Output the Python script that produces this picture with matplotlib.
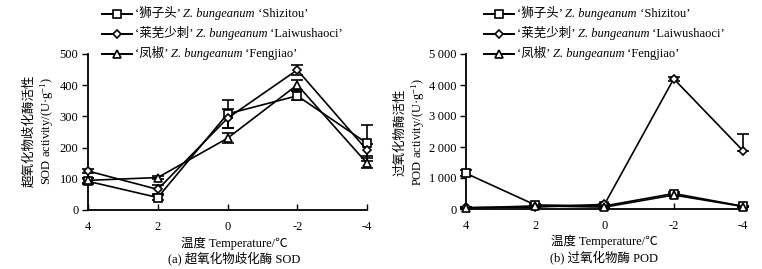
import numpy as np
import matplotlib
matplotlib.use('Agg')
import matplotlib.pyplot as plt
from matplotlib.lines import Line2D

plt.rcParams['font.family'] = ['Liberation Serif', 'Noto Sans CJK SC', 'DejaVu Serif']
plt.rcParams['mathtext.fontset'] = 'custom'
plt.rcParams['mathtext.rm'] = 'Liberation Serif'
plt.rcParams['mathtext.it'] = 'Liberation Serif:italic'
plt.rcParams['font.size'] = 9

# data
temps = [4, 2, 0, -2, -4]
temp_labels = ['4', '2', '0', '-2', '-4']

cultivars_cn = ['‘狮子头’ ', '‘莱芜少刺’ ', '‘凤椒’ ']
cultivars_en = [' ‘Shizitou’', ' ‘Laiwushaoci’', ' ‘Fengjiao’']
markers = ['s', 'D', '^']

sod_shizitou = [92, 40, 308, 366, 214]
sod_shizitou_err = [10, 8, 44, 15, 58]
sod_laiwu = [125, 66, 294, 449, 192]
sod_laiwu_err = [8, 15, 30, 16, 20]
sod_fengjiao = [95, 104, 230, 401, 150]
sod_fengjiao_err = [8, 6, 16, 15, 16]

pod_shizitou = [1150, 130, 100, 500, 90]
pod_shizitou_err = [100, 20, 20, 40, 20]
pod_laiwu = [50, 60, 150, 4200, 1880]
pod_laiwu_err_lo = [20, 20, 20, 60, 0]
pod_laiwu_err_hi = [20, 20, 20, 60, 540]
pod_fengjiao = [30, 100, 60, 450, 80]
pod_fengjiao_err = [20, 20, 20, 40, 20]

W, H = 762, 269
fig = plt.figure(figsize=(W / 100, H / 100), dpi=100)


def fx(x):
    return x / W


def fy(y):
    return 1 - y / H


def make_axes(left, right, top, bottom):
    return fig.add_axes([fx(left), fy(bottom), fx(right - left), (bottom - top) / H])


def style_axes(ax, ymax, step, yticklabels):
    ax.set_xlim(4, -4)
    ax.set_ylim(0, ymax)
    ax.set_xticks(temps)
    ax.set_xticklabels(temp_labels)
    ax.set_yticks(np.arange(0, ymax + 1, step))
    ax.set_yticklabels(yticklabels)
    for s in ['top', 'right']:
        ax.spines[s].set_visible(False)
    for s in ['left', 'bottom']:
        ax.spines[s].set_linewidth(1.3)
    ax.tick_params(axis='x', direction='in', length=4, width=1, labelsize=9, pad=8)
    ax.tick_params(axis='y', direction='out', length=4, width=1, labelsize=9, pad=3)
    ax.patch.set_alpha(0)


def plot_series(ax, vals, err, marker):
    ax.errorbar(temps, vals, yerr=err, color='black', lw=1.2, marker=marker,
                ms=6 if marker != 'D' else 4.5, mfc='white', mec='black', mew=1.2,
                capsize=4, elinewidth=1.2, capthick=1.2, clip_on=False, zorder=3)


def legend_rows(x0, ys):
    for i, y in enumerate(ys):
        fig.add_artist(Line2D([fx(x0), fx(x0 + 30)], [fy(y), fy(y)], color='black', lw=1.4,
                              transform=fig.transFigure))
        fig.add_artist(Line2D([fx(x0 + 15)], [fy(y)], color='black', marker=markers[i],
                              ms=6 if markers[i] != 'D' else 4.5, mfc='white', mew=1.2,
                              transform=fig.transFigure))
        t1 = fig.text(fx(x0 + 33), fy(y), cultivars_cn[i], va='center', ha='left', fontsize=9)
        t2 = ax_a.annotate('Z. bungeanum', xy=(1, 0), xycoords=t1, va='bottom', ha='left',
                           fontsize=9, fontstyle='italic', annotation_clip=False)
        ax_a.annotate(cultivars_en[i], xy=(1, 0), xycoords=t2, va='bottom', ha='left',
                      fontsize=9, annotation_clip=False)


# (a) SOD
ax_a = make_axes(88, 367, 54, 210)
plot_series(ax_a, sod_shizitou, sod_shizitou_err, 's')
plot_series(ax_a, sod_laiwu, sod_laiwu_err, 'D')
plot_series(ax_a, sod_fengjiao, sod_fengjiao_err, '^')
style_axes(ax_a, 500, 100, ['0', '100', '200', '300', '400', '500'])

# (b) POD
ax_b = make_axes(466, 743, 54, 209)
plot_series(ax_b, pod_shizitou, pod_shizitou_err, 's')
plot_series(ax_b, pod_laiwu, [pod_laiwu_err_lo, pod_laiwu_err_hi], 'D')
plot_series(ax_b, pod_fengjiao, pod_fengjiao_err, '^')
style_axes(ax_b, 5000, 1000, ['0', '1\u2009000', '2\u2009000', '3\u2009000', '4\u2009000', '5\u2009000'])

legend_rows(102, [14, 34, 54])
legend_rows(484, [14, 34, 54])

# axis titles
fig.text(fx(29), fy(131), '超氧化物歧化酶活性', rotation=90, ha='center', va='center')
fig.text(fx(47), fy(131), 'SOD activity/(U·g$^{-1}$)', rotation=90, ha='center', va='center')
fig.text(fx(400), fy(132), '过氧化物酶活性', rotation=90, ha='center', va='center')
fig.text(fx(418), fy(132), 'POD activity/(U·g$^{-1}$)', rotation=90, ha='center', va='center')

fig.text(fx(234), fy(243), '温度 Temperature/℃', ha='center', va='center')
fig.text(fx(234), fy(258), '(a) 超氧化物歧化酶 SOD', ha='center', va='center')
fig.text(fx(604), fy(241), '温度 Temperature/℃', ha='center', va='center')
fig.text(fx(604), fy(257), '(b) 过氧化物酶 POD', ha='center', va='center')

fig.savefig('out.png', dpi=100, facecolor='white')
